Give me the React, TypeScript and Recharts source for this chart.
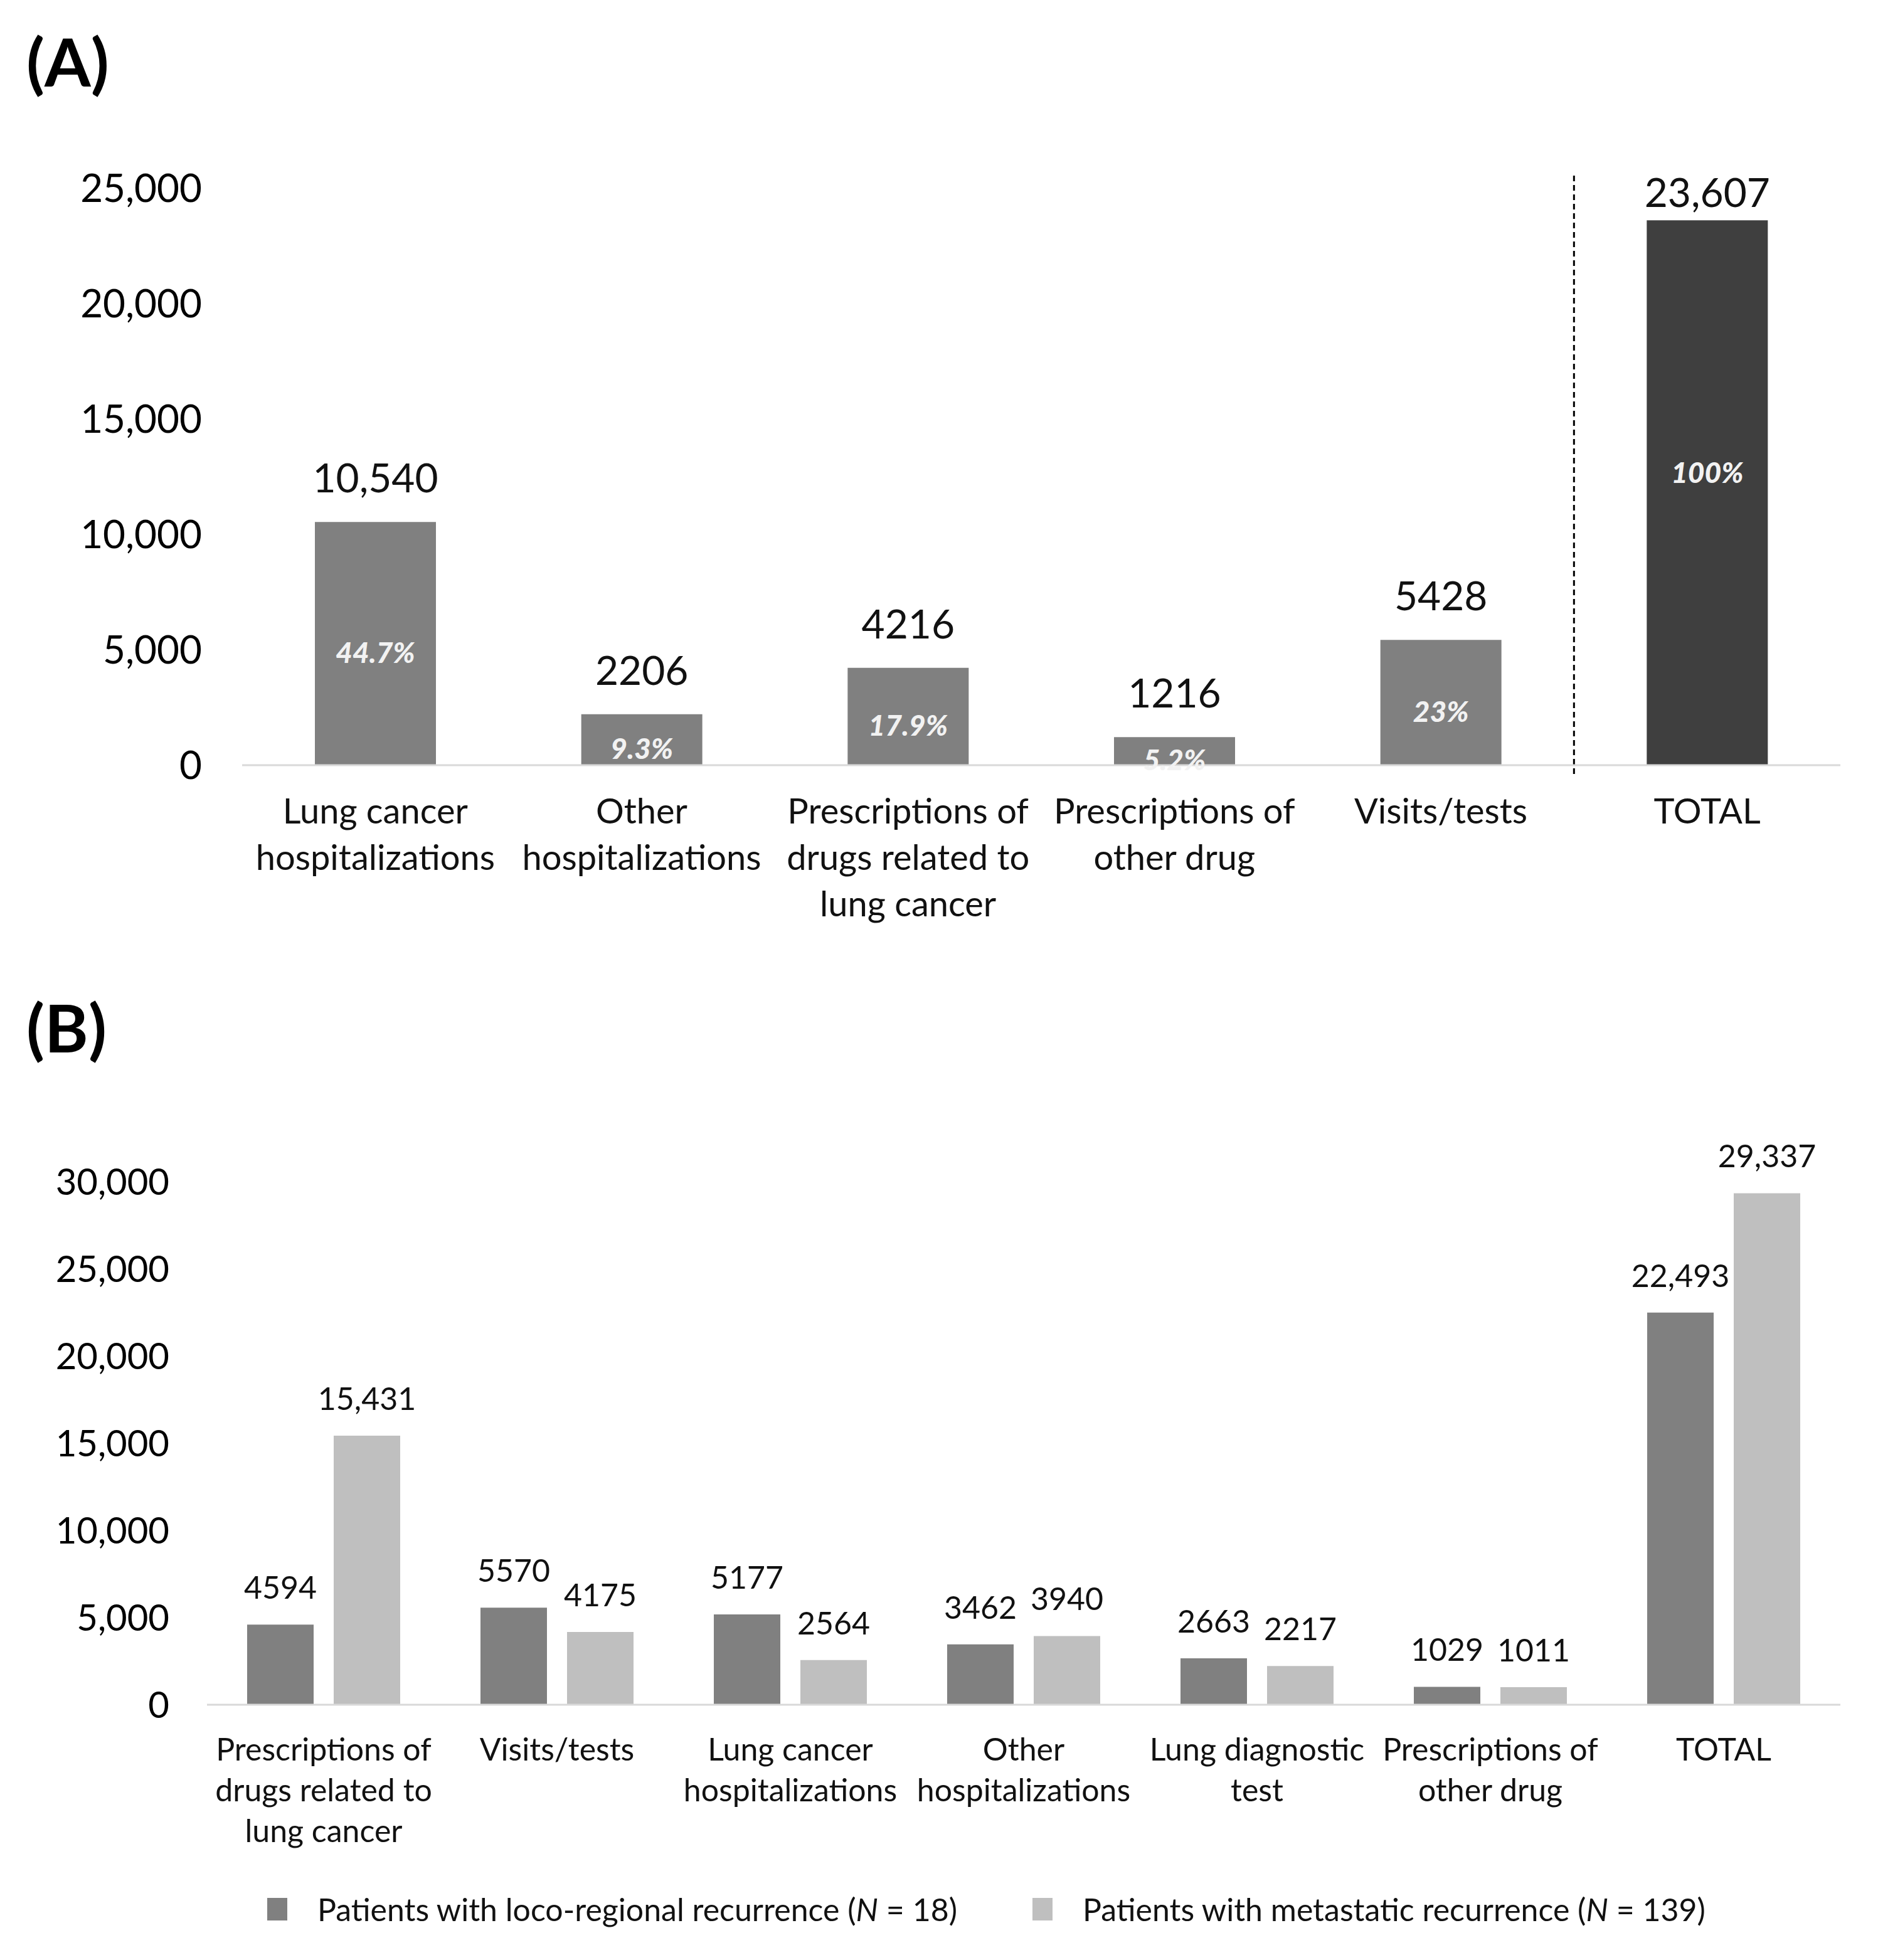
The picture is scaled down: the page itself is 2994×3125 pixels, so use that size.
import React from 'react';
import { BarChart, Bar, XAxis, YAxis, Cell, LabelList, ReferenceLine, Legend } from 'recharts';

const FONT = 'Lato, "Open Sans", sans-serif';

// ---------- Panel A data ----------
const categoriesA = [
  'Lung cancer\nhospitalizations',
  'Other\nhospitalizations',
  'Prescriptions of\ndrugs related to\nlung cancer',
  'Prescriptions of\nother drug',
  'Visits/tests',
  'TOTAL',
];
const valuesA = [10540, 2206, 4216, 1216, 5428, 23607];
const percentsA = ['44.7%', '9.3%', '17.9%', '5.2%', '23%', '100%'];
const ticksA = [0, 5000, 10000, 15000, 20000, 25000];

// ---------- Panel B data ----------
const categoriesB = [
  'Prescriptions of\ndrugs related to\nlung cancer',
  'Visits/tests',
  'Lung cancer\nhospitalizations',
  'Other\nhospitalizations',
  'Lung diagnostic\ntest',
  'Prescriptions of\nother drug',
  'TOTAL',
];
const locoB = [4594, 5570, 5177, 3462, 2663, 1029, 22493];
const metaB = [15431, 4175, 2564, 3940, 2217, 1011, 29337];
const ticksB = [0, 5000, 10000, 15000, 20000, 25000, 30000];
const seriesNamesB = [
  'Patients with loco-regional recurrence (N = 18)',
  'Patients with metastatic recurrence (N = 139)',
];

const dataA = categoriesA.map((c, i) => ({ cat: c, value: valuesA[i], pct: percentsA[i] }));
const dataB = categoriesB.map((c, i) => ({ cat: c, loco: locoB[i], meta: metaB[i] }));

const fmtCount = (v: number) => (v >= 10000 ? v.toLocaleString('en-US') : String(v));
const fmtTick = (v: number) => v.toLocaleString('en-US');

const DARK = '#808080';
const LIGHT = '#bfbfbf';
const TOTAL_A = '#3f3f3f';
const AXIS = '#d9d9d9';
const TEXT = '#111111';

const CategoryTick = (props: any) => {
  const { x, y, payload, fontSize, firstDy, lineH } = props;
  const lines = String(payload.value).split('\n');
  return (
    <g>
      <text textAnchor="middle" fontFamily={FONT} fontSize={fontSize} fill={TEXT}>
        {lines.map((l: string, i: number) => (
          <tspan key={i} x={x} y={y + firstDy + i * lineH + 0.34 * fontSize}>
            {l}
          </tspan>
        ))}
      </text>
    </g>
  );
};

const ValueLabelA = (props: any) => {
  const { x, y, width, value, index } = props;
  const isTotal = index === categoriesA.length - 1;
  const cy = y - (isTotal ? 44 : 70);
  return (
    <text x={x + width / 2} y={cy + 0.36 * 64} textAnchor="middle" fontFamily={FONT} fontSize={64} fill={TEXT}>
      {fmtCount(Number(value))}
    </text>
  );
};

const PctLabelA = (props: any) => {
  const { x, y, width, height, value, index } = props;
  const isTotal = index === categoriesA.length - 1;
  const cy = y + height / 2 + (isTotal ? -32 : 14);
  return (
    <text
      x={x + width / 2}
      y={cy + 0.36 * 46}
      textAnchor="middle"
      fontFamily={FONT}
      fontSize={46}
      fontWeight={900}
      fontStyle="italic"
      fill="#f2f2f2"
    >
      {value}
    </text>
  );
};

const ValueLabelB = (props: any) => {
  const { x, y, width, value } = props;
  const cy = y - 59;
  return (
    <text x={x + width / 2} y={cy + 0.36 * 50} textAnchor="middle" fontFamily={FONT} fontSize={50} fill={TEXT}>
      {fmtCount(Number(value))}
    </text>
  );
};

const renderName = (name: string) => {
  const m = name.match(/^(.*\()N(.*)$/);
  if (!m) return name;
  return (
    <>
      {m[1]}
      <i>N</i>
      {m[2]}
    </>
  );
};

const LegendB = (props: any) => {
  const { payload } = props;
  const lefts = [426, 1646];
  return (
    <div style={{ position: 'relative', width: 2994, height: 60 }}>
      {(payload || []).map((p: any, i: number) => (
        <div
          key={i}
          style={{
            position: 'absolute',
            left: lefts[i],
            top: 0,
            height: 60,
            display: 'flex',
            alignItems: 'center',
          }}
        >
          <span style={{ display: 'inline-block', width: 32, height: 36, background: p.color, marginRight: 48 }} />
          <span style={{ fontFamily: FONT, fontSize: 50, color: TEXT, whiteSpace: 'nowrap' }}>{renderName(String(p.value))}</span>
        </div>
      ))}
    </div>
  );
};

const panelLabel: React.CSSProperties = {
  position: 'absolute',
  fontFamily: FONT,
  fontWeight: 700,
  fontSize: 106,
  lineHeight: '106px',
  color: '#000',
};

export default function App() {
  return (
    <div style={{ position: 'absolute', left: 0, top: 0, width: 2994, height: 3125, background: '#fff', overflow: 'hidden' }}>
      <div style={{ ...panelLabel, left: 42, top: 44 }}>(A)</div>
      <div style={{ ...panelLabel, left: 42, top: 1584 }}>(B)</div>

      <div style={{ position: 'absolute', left: 0, top: 0 }}>
        <BarChart
          width={2994}
          height={1500}
          data={dataA}
          margin={{ top: 300, right: 60, bottom: 80, left: 0 }}
          barCategoryGap={116}
        >
          <XAxis
            dataKey="cat"
            interval={0}
            tickLine={false}
            tickSize={0}
            tickMargin={0}
            height={200}
            axisLine={{ stroke: AXIS, strokeWidth: 3 }}
            tick={<CategoryTick fontSize={56} firstDy={74} lineH={74} />}
          />
          <YAxis
            domain={[0, 25000]}
            ticks={ticksA}
            interval={0}
            width={386}
            axisLine={false}
            tickLine={false}
            tickSize={0}
            tickMargin={64}
            tickFormatter={fmtTick}
            tick={{ fontSize: 62, fill: '#000', fontFamily: FONT }}
          />
          <ReferenceLine
            segment={[
              { x: 'TOTAL', y: 25543 },
              { x: 'TOTAL', y: -543 },
            ]}
            position="start"
            ifOverflow="visible"
            stroke="#000"
            strokeWidth={3}
            strokeDasharray="9 6"
          />
          <Bar dataKey="value" isAnimationActive={false} fill={DARK}>
            {dataA.map((d, i) => (
              <Cell key={i} fill={i === dataA.length - 1 ? TOTAL_A : DARK} />
            ))}
            <LabelList dataKey="value" content={<ValueLabelA />} />
            <LabelList dataKey="pct" content={<PctLabelA />} />
          </Bar>
        </BarChart>
      </div>

      <div style={{ position: 'absolute', left: 0, top: 1552 }}>
        <BarChart
          width={2994}
          height={1573}
          data={dataB}
          margin={{ top: 332, right: 60, bottom: 107, left: 0 }}
          barCategoryGap={64}
          barGap={32}
        >
          <XAxis
            dataKey="cat"
            interval={0}
            tickLine={false}
            tickSize={0}
            tickMargin={0}
            height={300}
            axisLine={{ stroke: AXIS, strokeWidth: 3 }}
            tick={<CategoryTick fontSize={50} firstDy={72} lineH={65} />}
          />
          <YAxis
            domain={[0, 30000]}
            ticks={ticksB}
            interval={0}
            width={330}
            axisLine={false}
            tickLine={false}
            tickSize={0}
            tickMargin={60}
            tickFormatter={fmtTick}
            tick={{ fontSize: 58, fill: '#000', fontFamily: FONT }}
          />
          <Legend
            layout="horizontal"
            verticalAlign="middle"
            align="center"
            content={<LegendB />}
            wrapperStyle={{ position: 'absolute', top: 1462, left: 0, width: 2994, height: 60 }}
          />
          <Bar dataKey="loco" name={seriesNamesB[0]} fill={DARK} isAnimationActive={false}>
            <LabelList dataKey="loco" content={<ValueLabelB />} />
          </Bar>
          <Bar dataKey="meta" name={seriesNamesB[1]} fill={LIGHT} isAnimationActive={false}>
            <LabelList dataKey="meta" content={<ValueLabelB />} />
          </Bar>
        </BarChart>
      </div>
    </div>
  );
}
